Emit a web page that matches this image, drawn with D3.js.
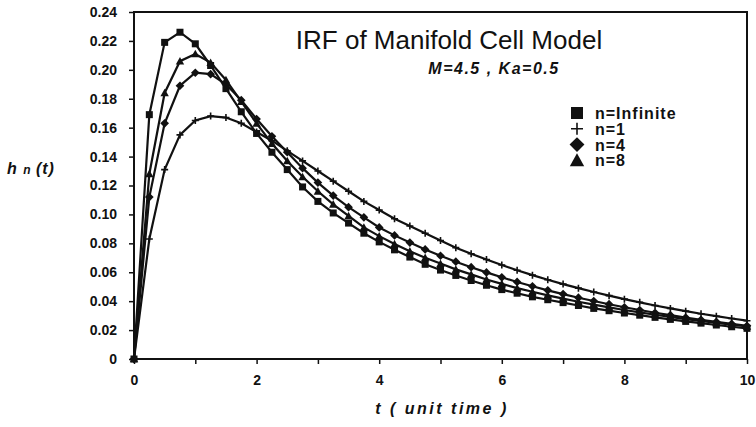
<!DOCTYPE html>
<html lang="en">
<head>
<meta charset="utf-8">
<script src="https://d3js.org/d3.v7.min.js"></script>
<style>
  body { margin: 0; background: #fff; }
  text { font-family: Arial, "Liberation Sans", sans-serif; fill: #111; }
</style>
</head>
<body>
<script>
// time points (unit time), one marker every 0.25
var tValues = [0, 0.25, 0.5, 0.75, 1, 1.25, 1.5, 1.75, 2, 2.25, 2.5, 2.75, 3, 3.25, 3.5, 3.75,
  4, 4.25, 4.5, 4.75, 5, 5.25, 5.5, 5.75, 6, 6.25, 6.5, 6.75, 7, 7.25, 7.5, 7.75,
  8, 8.25, 8.5, 8.75, 9, 9.25, 9.5, 9.75, 10];

// h_n(t)
var hInfinite = [0, 0.169, 0.219, 0.226, 0.218, 0.203, 0.187, 0.171, 0.156, 0.143, 0.131, 0.119,
  0.109, 0.101, 0.094, 0.087, 0.081, 0.0755, 0.0705, 0.0655, 0.0615, 0.0578, 0.0543, 0.051,
  0.048, 0.0455, 0.043, 0.041, 0.039, 0.037, 0.035, 0.0334, 0.0318, 0.0303, 0.0288, 0.0274,
  0.026, 0.0248, 0.0235, 0.0223, 0.0212];
var hN1 = [0, 0.083, 0.131, 0.155, 0.165, 0.168, 0.167, 0.163, 0.157, 0.151, 0.144, 0.137,
  0.130, 0.123, 0.116, 0.109, 0.103, 0.097, 0.092, 0.087, 0.082, 0.077, 0.0728, 0.0688,
  0.065, 0.0614, 0.058, 0.0548, 0.0518, 0.049, 0.0463, 0.0438, 0.0414, 0.0392, 0.037, 0.035,
  0.0331, 0.0313, 0.0296, 0.028, 0.0265];
var hN4 = [0, 0.112, 0.163, 0.189, 0.198, 0.197, 0.190, 0.179, 0.166, 0.154, 0.143, 0.132,
  0.122, 0.113, 0.105, 0.098, 0.091, 0.0855, 0.0805, 0.0758, 0.0714, 0.0673, 0.0635, 0.0599,
  0.0565, 0.0533, 0.0503, 0.0475, 0.0449, 0.0424, 0.0401, 0.0379, 0.0358, 0.0339, 0.032, 0.0303,
  0.0287, 0.0271, 0.0257, 0.0243, 0.023];
var hN8 = [0, 0.128, 0.184, 0.206, 0.211, 0.205, 0.193, 0.178, 0.163, 0.149, 0.137, 0.126,
  0.116, 0.107, 0.099, 0.091, 0.085, 0.0795, 0.0745, 0.070, 0.066, 0.062, 0.0585, 0.055,
  0.052, 0.049, 0.0465, 0.044, 0.0418, 0.0396, 0.0376, 0.0357, 0.0339, 0.0322, 0.0306, 0.0291,
  0.0276, 0.0263, 0.025, 0.0237, 0.0225];

var seriesNames = ["n=Infinite", "n=1", "n=4", "n=8"];
var xTicks = [0, 1, 2, 3, 4, 5, 6, 7, 8, 9, 10];
var xLabels = [0, 2, 4, 6, 8, 10];
var yTicks = [0, 0.02, 0.04, 0.06, 0.08, 0.10, 0.12, 0.14, 0.16, 0.18, 0.20, 0.22, 0.24];

var width = 756, height = 427;
var plotLeft = 134, plotRight = 747, plotTop = 12, plotBottom = 359;

var svg = d3.select("body").append("svg")
  .attr("width", width)
  .attr("height", height);

var x = d3.scaleLinear().domain([0, 10]).range([plotLeft, plotRight]);
var y = d3.scaleLinear().domain([0, 0.24]).range([plotBottom, plotTop]);

// marker shapes, one per series
var markers = {
  "n=Infinite": function (g, s) { g.append("rect").attr("x", -s / 2).attr("y", -s / 2).attr("width", s).attr("height", s); },
  "n=1": function (g, s) { g.append("path").attr("d", "M" + (-s / 2) + ",0H" + (s / 2) + "M0," + (-s / 2) + "V" + (s / 2)).attr("stroke", "#111").attr("stroke-width", 1.6).attr("fill", "none"); },
  "n=4": function (g, s) { var r = s * 0.62; g.append("path").attr("d", "M0," + (-r) + "L" + r + ",0L0," + r + "L" + (-r) + ",0Z"); },
  "n=8": function (g, s) { var r = s * 0.6; g.append("path").attr("d", "M0," + (-r) + "L" + r + "," + (r * 0.8) + "L" + (-r) + "," + (r * 0.8) + "Z"); }
};

var series = [
  { name: "n=1", values: hN1 },
  { name: "n=4", values: hN4 },
  { name: "n=8", values: hN8 },
  { name: "n=Infinite", values: hInfinite }
];

// axes
var yAxis = d3.axisLeft(y).tickValues(yTicks).tickSize(5).tickPadding(12)
  .tickFormat(function (d) { return d === 0 ? "0" : d.toFixed(2); });
var gy = svg.append("g").attr("transform", "translate(" + plotLeft + ",0)").call(yAxis);
gy.select(".domain").remove();
gy.selectAll("line").attr("stroke", "#111").attr("stroke-width", 1.5);
gy.selectAll("text").style("font-size", "14px").style("font-weight", "bold");

var xAxis = d3.axisBottom(x).tickValues(xTicks).tickSize(5).tickPadding(11)
  .tickFormat(function (d) { return xLabels.indexOf(d) >= 0 ? d : ""; });
var gx = svg.append("g").attr("transform", "translate(0," + plotBottom + ")").call(xAxis);
gx.select(".domain").remove();
gx.selectAll("line").attr("stroke", "#111").attr("stroke-width", 1.5);
gx.selectAll("text").style("font-size", "14px").style("font-weight", "bold");

// frame
svg.append("rect")
  .attr("x", plotLeft).attr("y", plotTop)
  .attr("width", plotRight - plotLeft).attr("height", plotBottom - plotTop)
  .attr("fill", "none").attr("stroke", "#111").attr("stroke-width", 2);

// curves
var line = d3.line()
  .x(function (d, i) { return x(tValues[i]); })
  .y(function (d) { return y(d); });

series.forEach(function (s) {
  svg.append("path")
    .datum(s.values)
    .attr("d", line)
    .attr("fill", "none")
    .attr("stroke", "#111")
    .attr("stroke-width", 2.2);
});

series.forEach(function (s) {
  svg.append("g").selectAll("g")
    .data(s.values)
    .enter()
    .append("g")
    .attr("transform", function (d, i) { return "translate(" + x(tValues[i]) + "," + y(d) + ")"; })
    .attr("fill", "#111")
    .each(function () { markers[s.name](d3.select(this), 7); });
});

// titles
svg.append("text")
  .attr("x", 449).attr("y", 49)
  .attr("text-anchor", "middle")
  .style("font-size", "26px")
  .text("IRF of Manifold Cell Model");

svg.append("text")
  .attr("x", 494).attr("y", 74)
  .attr("text-anchor", "middle")
  .style("font-size", "16px").style("font-weight", "bold").style("font-style", "italic")
  .style("letter-spacing", "1.5px")
  .text("M=4.5 , Ka=0.5");

var yTitle = svg.append("text")
  .attr("x", 7).attr("y", 174)
  .style("font-weight", "bold").style("font-style", "italic")
  .style("letter-spacing", "1px");
yTitle.append("tspan").style("font-size", "16px").text("h ");
yTitle.append("tspan").style("font-size", "12px").text("n ");
yTitle.append("tspan").style("font-size", "16px").text("(t)");

svg.append("text")
  .attr("x", 442).attr("y", 414)
  .attr("text-anchor", "middle")
  .style("font-size", "16px").style("font-weight", "bold").style("font-style", "italic")
  .style("letter-spacing", "2.5px")
  .text("t ( unit time )");

// legend
var legend = svg.append("g").attr("transform", "translate(577,113)");
seriesNames.forEach(function (name, i) {
  var row = legend.append("g").attr("transform", "translate(0," + (i * 15.8) + ")");
  var m = row.append("g").attr("fill", "#111");
  markers[name](m, 12);
  row.append("text")
    .attr("x", 18).attr("y", 6)
    .style("font-size", "16px").style("font-weight", "bold")
    .style("letter-spacing", "1px")
    .text(name);
});
</script>
</body>
</html>
